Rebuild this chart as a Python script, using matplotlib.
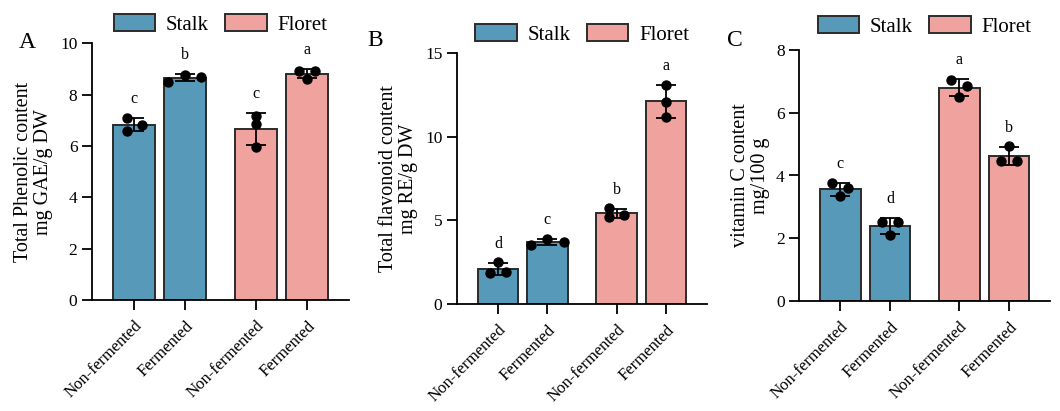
import numpy as np
import matplotlib
matplotlib.use("Agg")
import matplotlib.pyplot as plt
from matplotlib.patches import Patch

plt.rcParams['font.family'] = ['Liberation Serif', 'DejaVu Serif']

# ---------------- data ----------------
categories = ["Non-fermented", "Fermented", "Non-fermented", "Fermented"]
groups = ["Stalk", "Stalk", "Floret", "Floret"]
legend_labels = ["Stalk", "Floret"]

phenolic_points = [[7.08, 6.82, 6.60],
                   [8.50, 8.78, 8.70],
                   [7.18, 6.84, 5.97],
                   [8.93, 8.93, 8.60]]
phenolic_letters = ["c", "b", "c", "a"]

flavonoid_points = [[2.49, 1.84, 1.93],
                    [3.53, 3.87, 3.73],
                    [5.73, 5.20, 5.33],
                    [13.10, 12.10, 11.17]]
flavonoid_letters = ["d", "c", "b", "a"]

vitc_points = [[3.75, 3.59, 3.34],
               [2.53, 2.53, 2.09],
               [7.04, 6.86, 6.50],
               [4.95, 4.46, 4.46]]
vitc_letters = ["c", "d", "a", "b"]

panel_labels = ["A", "B", "C"]
ylabels = ["Total Phenolic content\nmg GAE/g DW",
           "Total flavonoid content\nmg RE/g DW",
           "vitamin C content\nmg/100 g"]
ymax = [10, 15, 8]
ystep = [2, 5, 2]

# ---------------- style ----------------
colors = {"Stalk": "#5699B9", "Floret": "#F0A29F"}
edge = "#2b2b2b"
xpos = np.array([0, 1, 2.4, 3.4])
bar_w = 0.82

fig = plt.figure(figsize=(10.6, 4.11), dpi=100)
W, H = 1060, 411
rects = [(92, 349, 43.3, 300), (457, 707, 53.3, 304), (799.3, 1050, 50, 301)]
label_x = [-0.15, -0.155, -0.115]
legend_y = [1.0, 1.0, 1.02]
panel_xy = [(27, 42), (375, 41), (735, 41)]
serif = ['Liberation Serif', 'DejaVu Serif']


def scatter_offsets(ax, x0, vals, thresh_px=7.5, row_px=16.5, zig_px=7.5):
    """GraphPad-like arrangement: overlapping points are spread sideways"""
    trans = ax.transData
    px_per_x = trans.transform((1, 0))[0] - trans.transform((0, 0))[0]
    ys = np.array([trans.transform((0, v))[1] for v in vals])
    order = list(np.argsort(-ys, kind="stable"))
    clusters = []
    for idx in order:
        if clusters and abs(ys[clusters[-1][-1]] - ys[idx]) < thresh_px:
            clusters[-1].append(idx)
        else:
            clusters.append([idx])
    off = np.zeros(len(vals))
    for cl in clusters:
        n = len(cl)
        if n == 1:
            continue
        mutual = abs(ys[cl[0]] - ys[cl[-1]]) < thresh_px
        if mutual:
            cl_in = sorted(cl)
            step = row_px if n > 2 else 2 * zig_px + 1
            for k, idx in enumerate(cl_in):
                off[idx] = (k - (n - 1) / 2) * step
        else:
            for k, idx in enumerate(cl):
                off[idx] = -zig_px if k % 2 == 0 else zig_px
    return x0 + off / px_per_x


datasets = [(phenolic_points, phenolic_letters),
            (flavonoid_points, flavonoid_letters),
            (vitc_points, vitc_letters)]

for i, ((pts, letters), (l, r, t, b)) in enumerate(zip(datasets, rects)):
    ax = fig.add_axes([l / W, 1 - b / H, (r - l) / W, (b - t) / H])
    ax.set_xlim(-0.83, 4.23)
    ax.set_ylim(0, ymax[i])
    means = [np.mean(p) for p in pts]
    sds = [np.std(p, ddof=1) for p in pts]
    ax.bar(xpos, means, width=bar_w, color=[colors[g] for g in groups],
           edgecolor=edge, linewidth=1.4, zorder=2)
    ax.errorbar(xpos, means, yerr=sds, fmt="none", ecolor="black",
                elinewidth=1.3, capsize=7.5, capthick=1.3, zorder=3)
    for x0, p in zip(xpos, pts):
        xs = scatter_offsets(ax, x0, p)
        ax.scatter(xs, p, s=42, color="black", zorder=4, clip_on=False)
    for x0, m, s, let in zip(xpos, means, sds, letters):
        ax.annotate(let, (x0, m + s), xytext=(0, 8), textcoords="offset points",
                    ha="center", va="bottom", fontsize=11.5, family=serif)
    for sp in ["top", "right"]:
        ax.spines[sp].set_visible(False)
    for sp in ["left", "bottom"]:
        ax.spines[sp].set_linewidth(1.3)
    ax.set_yticks(np.arange(0, ymax[i] + 0.01, ystep[i]))
    ax.tick_params(axis="both", length=7, width=1.3, labelsize=12.5)
    ax.set_xticks(xpos)
    ax.set_xticklabels(categories, rotation=45, ha="right", va="top",
                       rotation_mode="anchor", fontsize=12, family=serif)
    ax.tick_params(axis="x", pad=6)
    ax.set_ylabel(ylabels[i], fontsize=14.5, linespacing=1.1, family=serif)
    ax.yaxis.set_label_coords(label_x[i], 0.5)
    handles = [Patch(facecolor=colors[g], edgecolor=edge, linewidth=1.4) for g in legend_labels]
    ax.legend(handles, legend_labels, ncol=2, loc="lower center",
              bbox_to_anchor=(0.5, legend_y[i]), frameon=False,
              prop={'family': serif, 'size': 15},
              handlelength=2.0, handleheight=0.9, handletextpad=0.5,
              columnspacing=0.8, borderaxespad=0.0)
    px, py = panel_xy[i]
    fig.text(px / W, 1 - py / H, panel_labels[i], fontsize=17, ha="center",
             va="center", family=serif)

fig.savefig("out.png", dpi=100)
